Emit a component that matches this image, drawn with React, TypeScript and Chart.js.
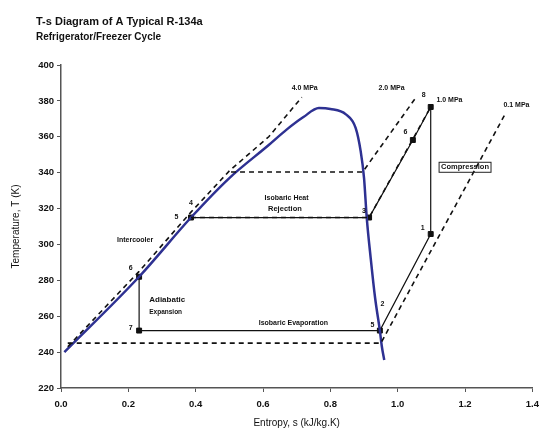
import React, { useEffect, useRef } from 'react';
import { Chart, registerables } from 'chart.js';
Chart.register(...registerables);

// Saturation dome (s in kJ/kg.K, T in K)
const domeS = [0.01, 0.232, 0.386, 0.5, 0.617, 0.67, 0.72, 0.766, 0.8, 0.846, 0.875, 0.89, 0.9, 0.908, 0.92, 0.933, 0.947, 0.953, 0.96];
const domeT = [240, 282, 315, 337, 355.4, 364, 371, 376, 375.5, 372.5, 365, 352, 337, 315, 292, 270, 252, 243, 235.6];

// Isobars (dashed)
const iso40S = [0.02, 0.232, 0.386, 0.5, 0.617, 0.715];
const iso40T = [243, 285, 318, 341, 360, 382];
const iso20S = [0.505, 0.896, 1.053];
const iso20T = [340.4, 340.4, 381.6];
const iso10S = [0.386, 0.915, 1.098];
const iso10T = [315, 315, 376.6];
const iso01S = [0.02, 0.95, 1.32];
const iso01T = [245, 245, 373];

// Isobar labels
const isoLabels = ['4.0 MPa', '2.0 MPa', '1.0 MPa', '0.1 MPa'];
const isoLabelS = [0.685, 0.943, 1.115, 1.314];
const isoLabelT = [387, 387, 380.5, 377.5];

// Cycle process lines
const rejectS = [1.098, 1.045, 0.915, 0.386];
const rejectT = [376.6, 358.2, 315, 315];
const lowS = [0.232, 0.232, 0.947, 1.098, 1.098];
const lowT = [282, 252, 252, 305.8, 376.6];

// State points (markers)
const stateS = [1.098, 1.045, 0.915, 0.386, 0.232, 0.232, 0.947, 1.098];
const stateT = [376.6, 358.2, 315, 315, 282, 252, 252, 305.8];

// State point labels
const stateLabels = ['8', '6', '3', '4', '5', '6', '7', '5', '1', '2'];
const stateLabelS = [1.077, 1.023, 0.9, 0.386, 0.343, 0.207, 0.207, 0.925, 1.074, 0.955];
const stateLabelT = [383, 362.5, 318.5, 323, 315, 287, 253.5, 255, 309, 267];

// Process annotations
const noteTexts = ['Isobaric Heat', 'Rejection', 'Intercooler', 'Adiabatic', 'Expansion', 'Isobaric Evaporation', 'Compression'];
const noteS = [0.67, 0.665, 0.22, 0.262, 0.262, 0.69, 1.2];
const noteT = [326, 320, 302.5, 269, 262.5, 256, 343];
const noteSize = [7, 7.5, 7, 8, 6.5, 7, 7.5];
const noteAlign = ['center', 'center', 'center', 'left', 'left', 'center', 'center'];

const pts = (s: number[], t: number[]) => s.map((v, i) => ({ x: v, y: t[i] }));

const FONT = '"Liberation Sans", Arial, sans-serif';

const textPlugin = {
  id: 'textPlugin',
  afterDraw(chart: any) {
    const ctx = chart.ctx;
    const xs = chart.scales.x;
    const ys = chart.scales.y;
    ctx.save();
    ctx.fillStyle = '#111';
    ctx.textBaseline = 'middle';
    // Title
    ctx.textAlign = 'left';
    ctx.font = `bold 11px ${FONT}`;
    ctx.fillText('T-s Diagram of A Typical R-134a', 36, 22);
    ctx.font = `bold 10px ${FONT}`;
    ctx.fillText('Refrigerator/Freezer Cycle', 36, 37);
    // isobar labels
    ctx.font = `bold 7px ${FONT}`;
    isoLabels.forEach((t, i) => {
      ctx.fillText(t, xs.getPixelForValue(isoLabelS[i]), ys.getPixelForValue(isoLabelT[i]));
    });
    // state labels
    ctx.textAlign = 'center';
    ctx.font = `bold 7px ${FONT}`;
    stateLabels.forEach((t, i) => {
      ctx.fillText(t, xs.getPixelForValue(stateLabelS[i]), ys.getPixelForValue(stateLabelT[i]));
    });
    // notes
    noteTexts.forEach((t, i) => {
      ctx.font = `bold ${noteSize[i]}px ${FONT}`;
      ctx.textAlign = noteAlign[i];
      const x = xs.getPixelForValue(noteS[i]);
      const y = ys.getPixelForValue(noteT[i]);
      ctx.fillText(t, x, y);
      if (t === 'Compression') {
        const w = ctx.measureText(t).width;
        ctx.strokeStyle = '#222';
        ctx.lineWidth = 1;
        ctx.strokeRect(x - w / 2 - 2, y - 5, w + 4, 10);
      }
    });
    ctx.restore();
  },
};

export default function App() {
  const ref = useRef<HTMLCanvasElement>(null);
  useEffect(() => {
    document.body.style.margin = '0';
    const dashed = (data: any[]) => ({
      data,
      showLine: true,
      borderColor: '#111',
      borderWidth: 1.6,
      borderDash: [5, 4],
      pointRadius: 0,
      fill: false,
    });
    const chart = new Chart(ref.current!, {
      type: 'scatter',
      data: {
        datasets: [
          dashed(pts(iso40S, iso40T)),
          dashed(pts(iso20S, iso20T)),
          dashed(pts(iso10S, iso10T)),
          dashed(pts(iso01S, iso01T)),
          {
            data: pts(domeS, domeT),
            showLine: true,
            borderColor: '#2e3192',
            borderWidth: 2.5,
            pointRadius: 0,
            cubicInterpolationMode: 'monotone',
          } as any,
          {
            data: pts(rejectS, rejectT),
            showLine: true,
            borderColor: '#111',
            borderWidth: 1.2,
            pointRadius: 0,
          },
          {
            data: pts(lowS, lowT),
            showLine: true,
            borderColor: '#111',
            borderWidth: 1.2,
            pointRadius: 0,
          },
          {
            data: pts(stateS, stateT),
            showLine: false,
            pointStyle: 'rect',
            pointRadius: 3.5,
            backgroundColor: '#111',
            borderColor: '#111',
          },
        ],
      },
      options: {
        responsive: false,
        animation: false,
        layout: { padding: { top: 65, right: 12, left: 0, bottom: 0 } },
        plugins: { legend: { display: false }, tooltip: { enabled: false }, title: { display: false } },
        scales: {
          x: {
            type: 'linear',
            min: 0,
            max: 1.4,
            afterFit: (s: any) => { s.height = 49; },
            ticks: {
              stepSize: 0.2,
              callback: (v: any) => Number(v).toFixed(1),
              color: '#111',
              font: { family: FONT, size: 9.5, weight: 'bold' },
              padding: 7,
            },
            grid: { drawOnChartArea: false, tickLength: 4, color: '#555' },
            border: { display: true, color: '#555', width: 1.5 },
            title: {
              display: true,
              text: 'Entropy, s (kJ/kg.K)',
              color: '#111',
              font: { family: FONT, size: 10 },
              padding: { top: 0, bottom: 8 },
            },
          },
          y: {
            type: 'linear',
            min: 220,
            max: 400,
            afterFit: (s: any) => { s.width = 61; },
            ticks: {
              stepSize: 20,
              color: '#111',
              font: { family: FONT, size: 9.5, weight: 'bold' },
              padding: 3,
            },
            grid: { drawOnChartArea: false, tickLength: 4, color: '#555' },
            border: { display: true, color: '#555', width: 1.5 },
            title: {
              display: true,
              text: 'Temperature, T (K)',
              color: '#111',
              font: { family: FONT, size: 10 },
              padding: { top: 10, bottom: 0 },
            },
          },
        },
      },
      plugins: [textPlugin],
    } as any);
    return () => chart.destroy();
  }, []);
  return (
    <div style={{ width: 546, height: 437 }}>
      <canvas ref={ref} width={546} height={437} style={{ display: 'block' }} />
    </div>
  );
}
